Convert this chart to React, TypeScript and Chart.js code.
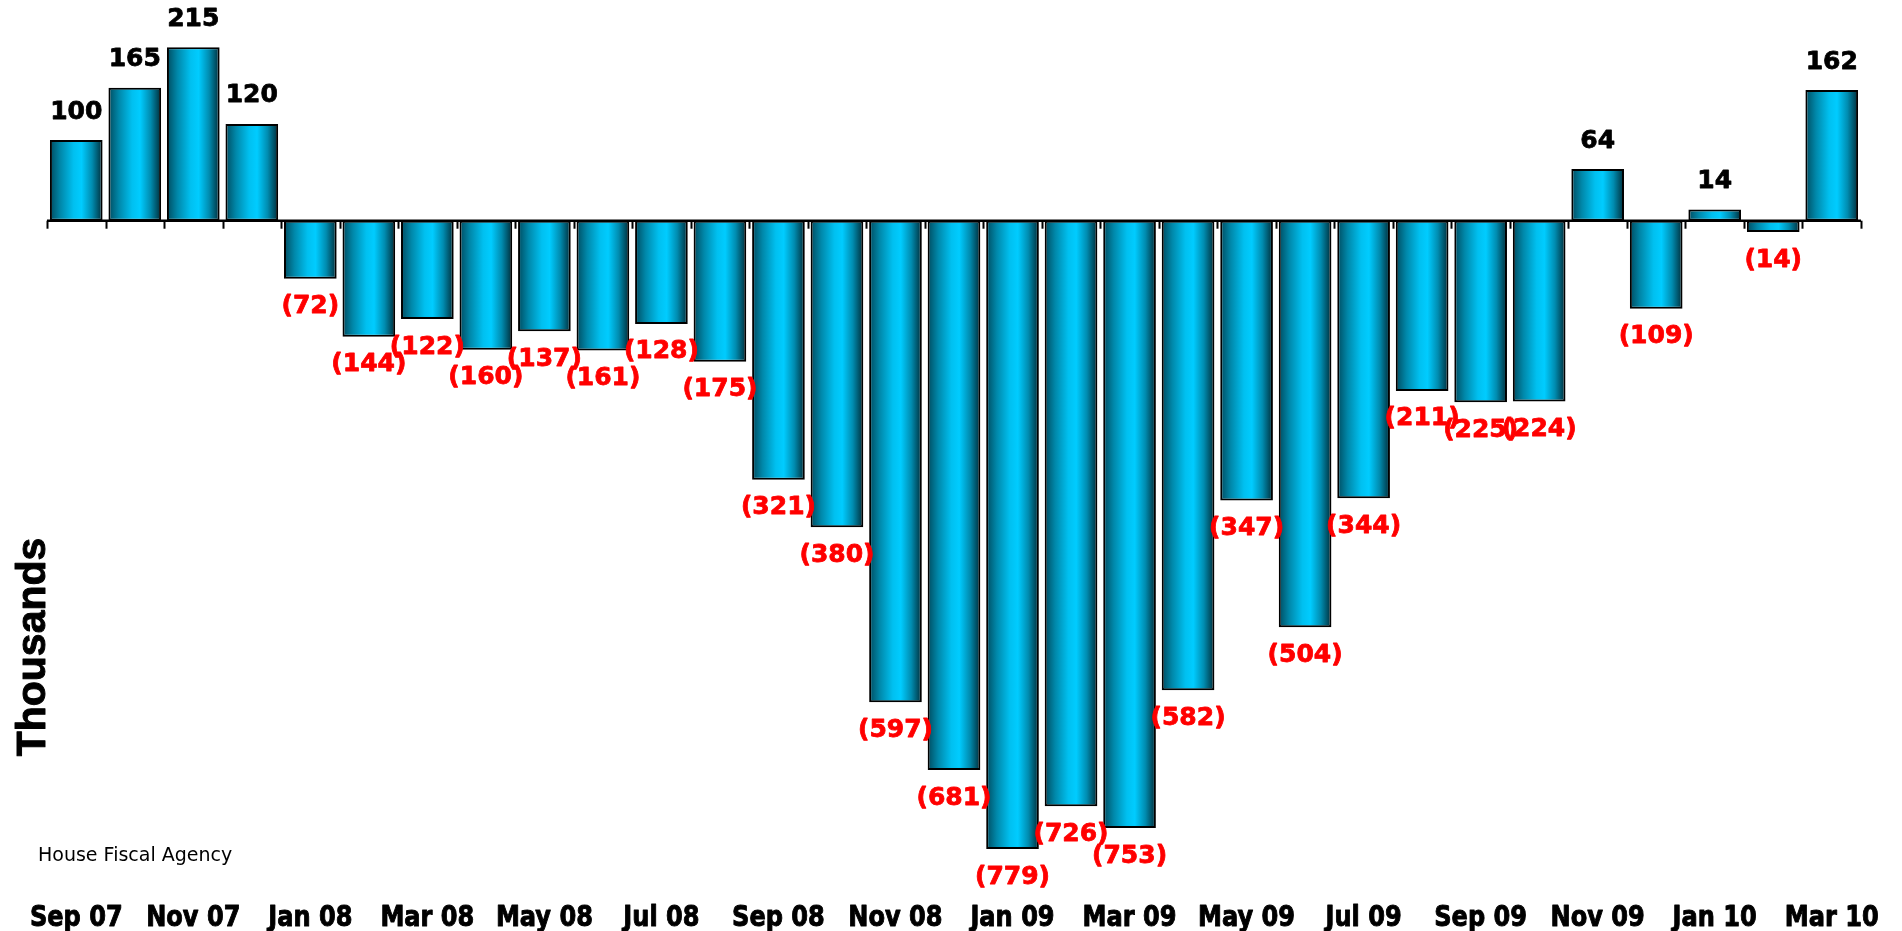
import React, { useEffect, useRef } from "react";
import { Chart, registerables } from "chart.js";

Chart.register(...registerables);

const months: string[] = [
  "Sep 07", "Oct 07", "Nov 07", "Dec 07", "Jan 08", "Feb 08", "Mar 08", "Apr 08",
  "May 08", "Jun 08", "Jul 08", "Aug 08", "Sep 08", "Oct 08", "Nov 08", "Dec 08",
  "Jan 09", "Feb 09", "Mar 09", "Apr 09", "May 09", "Jun 09", "Jul 09", "Aug 09",
  "Sep 09", "Oct 09", "Nov 09", "Dec 09", "Jan 10", "Feb 10", "Mar 10",
];

const jobChange: number[] = [
  100, 165, 215, 120, -72, -144, -122, -160, -137, -161, -128, -175, -321, -380,
  -597, -681, -779, -726, -753, -582, -347, -504, -344, -211, -225, -224, 64, -109,
  14, -14, 162,
];

const yAxisTitle = "Thousands";
const sourceNote = "House Fiscal Agency";

const makeGradient = (chart: any, dataIndex: number) => {
  const xs = chart.scales?.x;
  if (!chart.chartArea || !xs) return "#00ccff";
  const cx = xs.getPixelForValue(dataIndex);
  const catW = xs.width / months.length;
  const half = (catW * 0.9) / 2;
  const g = chart.ctx.createLinearGradient(cx - half, 0, cx + half, 0);
  g.addColorStop(0, "#004c60");
  g.addColorStop(0.2, "#0088aa");
  g.addColorStop(0.45, "#00c0f0");
  g.addColorStop(0.6, "#00ccff");
  g.addColorStop(0.8, "#008cb0");
  g.addColorStop(1, "#002c38");
  return g;
};

const boldText = (ctx: any, text: string, x: number, y: number, w: number) => {
  ctx.lineWidth = w;
  ctx.lineJoin = "round";
  ctx.strokeStyle = ctx.fillStyle;
  ctx.strokeText(text, x, y);
  ctx.fillText(text, x, y);
};

const decorPlugin = {
  id: "decor",
  afterDatasetsDraw(chart: any) {
    const ctx = chart.ctx;
    const xs = chart.scales.x;
    const ys = chart.scales.y;
    const zeroY = ys.getPixelForValue(0);
    const catW = xs.getPixelForValue(1) - xs.getPixelForValue(0);
    const left = xs.getPixelForValue(0) - catW / 2;
    const right = xs.getPixelForValue(months.length - 1) + catW / 2;

    ctx.save();
    // zero line
    ctx.strokeStyle = "#000";
    ctx.lineWidth = 2.5;
    ctx.beginPath();
    ctx.moveTo(left, zeroY);
    ctx.lineTo(right, zeroY);
    ctx.stroke();
    // tick marks
    ctx.lineWidth = 2;
    for (let i = 0; i <= months.length; i++) {
      const tx = Math.round(left + i * catW) + 0.5;
      ctx.beginPath();
      ctx.moveTo(tx, zeroY);
      ctx.lineTo(tx, zeroY + 8);
      ctx.stroke();
    }

    // value labels
    const meta = chart.getDatasetMeta(0);
    ctx.font = "bold 25px 'DejaVu Sans'";
    ctx.textAlign = "center";
    ctx.textBaseline = "middle";
    meta.data.forEach((bar: any, i: number) => {
      const v = jobChange[i];
      if (v >= 0) {
        ctx.fillStyle = "#000";
        boldText(ctx, String(v), bar.x, bar.y - 28, 0.8);
      } else {
        ctx.fillStyle = "#ff0000";
        boldText(ctx, `(${Math.abs(v)})`, bar.x, bar.y + 28, 0.8);
      }
    });

    // category labels (every other month)
    ctx.fillStyle = "#000";
    ctx.font = "bold 29px 'DejaVu Sans'";
    ctx.textBaseline = "alphabetic";
    months.forEach((m, i) => {
      if (i % 2 !== 0) return;
      const cx = xs.getPixelForValue(i);
      ctx.save();
      ctx.translate(cx, 926);
      ctx.scale(0.83, 1);
      boldText(ctx, m, 0, 0, 1);
      ctx.restore();
    });

    // y title
    ctx.save();
    ctx.font = "bold 41px 'Liberation Sans'";
    ctx.translate(45, 647);
    ctx.rotate(-Math.PI / 2);
    ctx.textAlign = "center";
    boldText(ctx, yAxisTitle, 0, 0, 1);
    ctx.restore();

    // source note
    ctx.font = "19px 'DejaVu Sans'";
    ctx.textAlign = "left";
    ctx.fillStyle = "#000";
    ctx.fillText(sourceNote, 38, 861);
    ctx.restore();
  },
};

export default function App() {
  const ref = useRef<HTMLCanvasElement | null>(null);
  useEffect(() => {
    if (!ref.current) return;
    const chart = new Chart(ref.current, {
      type: "bar",
      data: {
        labels: months,
        datasets: [
          {
            data: jobChange,
            backgroundColor: (c: any) => makeGradient(c.chart, c.dataIndex),
            borderColor: "#000",
            borderWidth: 2,
            borderSkipped: false,
            barPercentage: 0.9,
            categoryPercentage: 1,
          },
        ],
      },
      options: {
        responsive: false,
        animation: false,
        layout: { padding: { left: 47, right: 41, top: 11, bottom: 65 } },
        plugins: {
          legend: { display: false },
          tooltip: { enabled: false },
        },
        scales: {
          x: { display: false },
          y: { display: false, min: -800, max: 260 },
        },
      },
      plugins: [decorPlugin],
    });
    return () => chart.destroy();
  }, []);
  return (
    <div style={{ position: "fixed", left: 0, top: 0, width: 1902, height: 931, background: "#fff" }}>
      <canvas ref={ref} width={1902} height={931} style={{ display: "block" }} />
    </div>
  );
}
